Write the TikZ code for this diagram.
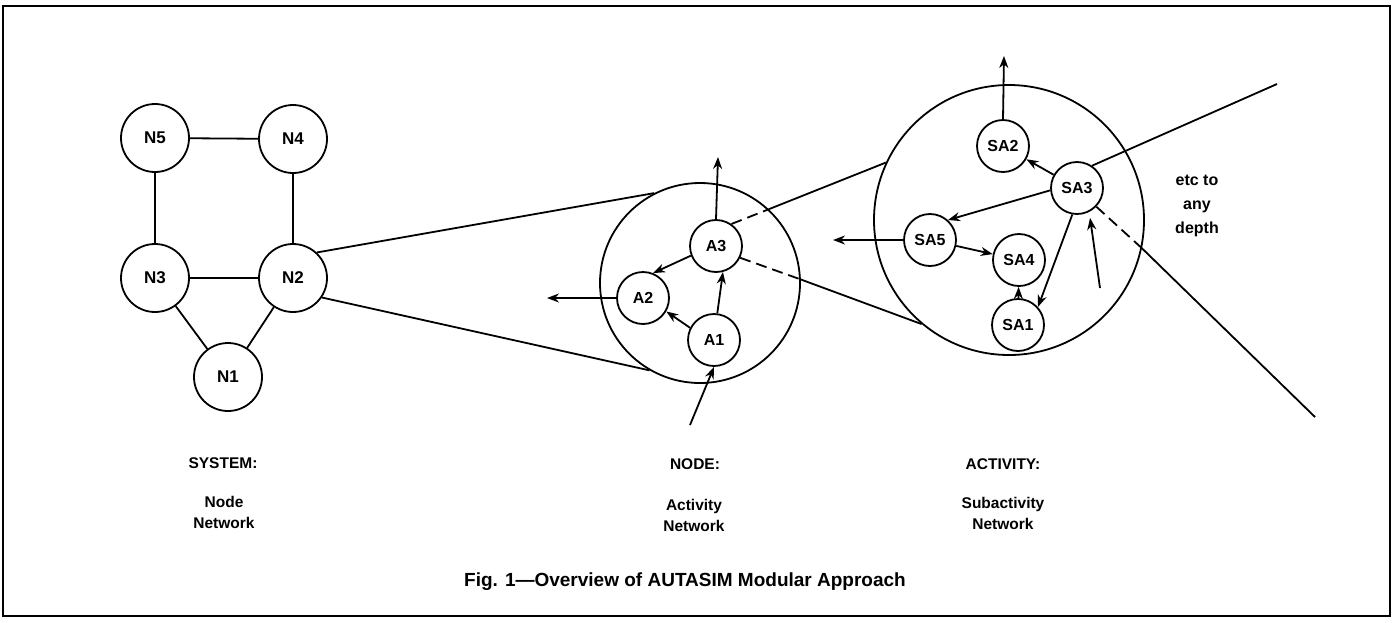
\documentclass[tikz,border=0pt]{standalone}
\usepackage{fontspec}
\setmainfont{Liberation Sans}
\usetikzlibrary{arrows.meta}
\begin{document}
\begin{tikzpicture}[x=1pt,y=-1pt, line width=1.8pt,
  nnode/.style={circle,draw,minimum size=68pt,inner sep=0pt,font=\bfseries\fontsize{17}{18}\selectfont},
  anode/.style={circle,draw,minimum size=52pt,inner sep=0pt,font=\bfseries\fontsize{16}{18}\selectfont},
  zoomc/.style={circle,draw,inner sep=0pt},
  arr/.style={-{Stealth[length=12pt,width=9pt]}},
  lbl/.style={align=center,inner sep=0pt,font=\bfseries\fontsize{15.5}{21}\selectfont},
  dashline/.style={dash pattern=on 11pt off 6pt}]
\useasboundingbox (0,0) rectangle (1395,622);
\draw[line width=2.6pt] (3,6) rectangle (1390,616);

% system network
\node[nnode] (N5) at (155,138) {N5};
\node[nnode] (N4) at (293,139) {N4};
\node[nnode] (N3) at (155,278) {N3};
\node[nnode] (N2) at (293,278) {N2};
\node[nnode] (N1) at (228,377) {N1};
\draw (N5) -- (N4);
\draw (N5) -- (N3);
\draw (N4) -- (N2);
\draw (N3) -- (N2);
\draw (N3) -- (N1);
\draw (N2) -- (N1);

% node (activity network)
\node[zoomc,minimum size=200pt] (C1) at (700,283) {};
\node[anode] (A3) at (716,246) {A3};
\node[anode] (A2) at (643,298) {A2};
\node[anode] (A1) at (714,340) {A1};
\coordinate (a3out) at (718,157);
\coordinate (a2out) at (547,298);
\coordinate (a1in) at (690,425);
\draw[arr] (A3.north) -- (a3out);
\draw[arr] (A2.west) -- (a2out);
\draw[arr] (a1in) -- (A1.south);
\draw[arr] (A3.201) -- (A2.68);
\draw[arr] (A1.153) -- (A2.330);
\draw[arr] (A1.83) -- (A3.285);
\draw (N2.47) -- (C1.117);
\draw (N2.326) -- (C1.240);

% activity (subactivity network)
\node[zoomc,minimum size=270pt] (C2) at (1009,220) {};
\node[anode] (SA2) at (1003,146) {SA2};
\node[anode] (SA3) at (1077,188) {SA3};
\node[anode] (SA5) at (930,240) {SA5};
\node[anode] (SA4) at (1019,260) {SA4};
\node[anode] (SA1) at (1018,325) {SA1};
\coordinate (sa2out) at (1004,56);
\coordinate (sa5out) at (833,240);
\coordinate (sa3in) at (1100,288);
\draw[arr] (SA2.north) -- (sa2out);
\draw[arr] (SA5.west) -- (sa5out);
\draw[arr] (SA3) -- (SA2);
\draw[arr] (SA3.185) -- (SA5.48);
\draw[arr] (SA5) -- (SA4);
\draw[arr] (SA1) -- (SA4);
\draw[arr] (SA3.260) -- (SA1.42);
\draw[arr,shorten >=6pt] (sa3in) -- (SA3.297);

% zoom lines between levels
\draw[dashline] (A3.55) -- (C1.47);
\draw (C1.47) -- (C2.155);
\draw[dashline] (A3.334) -- (C1.2);
\draw (C1.2) -- (C2.230.7);
\coordinate (far1) at (1277,84);
\coordinate (far2) at (1315,417);
\draw (SA3.56) -- (far1);
\draw[dashline] (SA3.316) -- (C2.348);
\draw (C2.348) -- (far2);

\node[lbl,font=\bfseries\fontsize{16}{24}\selectfont] (etc) at (1197,206) {etc to\\any\\depth};

% labels
\node[lbl] (sys) at (223,463) {SYSTEM:};
\node[lbl] (sysd) at (224,512) {Node\\Network};
\node[lbl] (nod) at (695,464) {NODE:};
\node[lbl] (nodd) at (694,515) {Activity\\Network};
\node[lbl] (act) at (1003,464) {ACTIVITY:};
\node[lbl] (actd) at (1003,513) {Subactivity\\Network};

\node[inner sep=0pt,font=\bfseries\fontsize{19}{22}\selectfont] (cap) at (685,582) {Fig. 1---Overview of AUTASIM Modular Approach};
\end{tikzpicture}
\end{document}
